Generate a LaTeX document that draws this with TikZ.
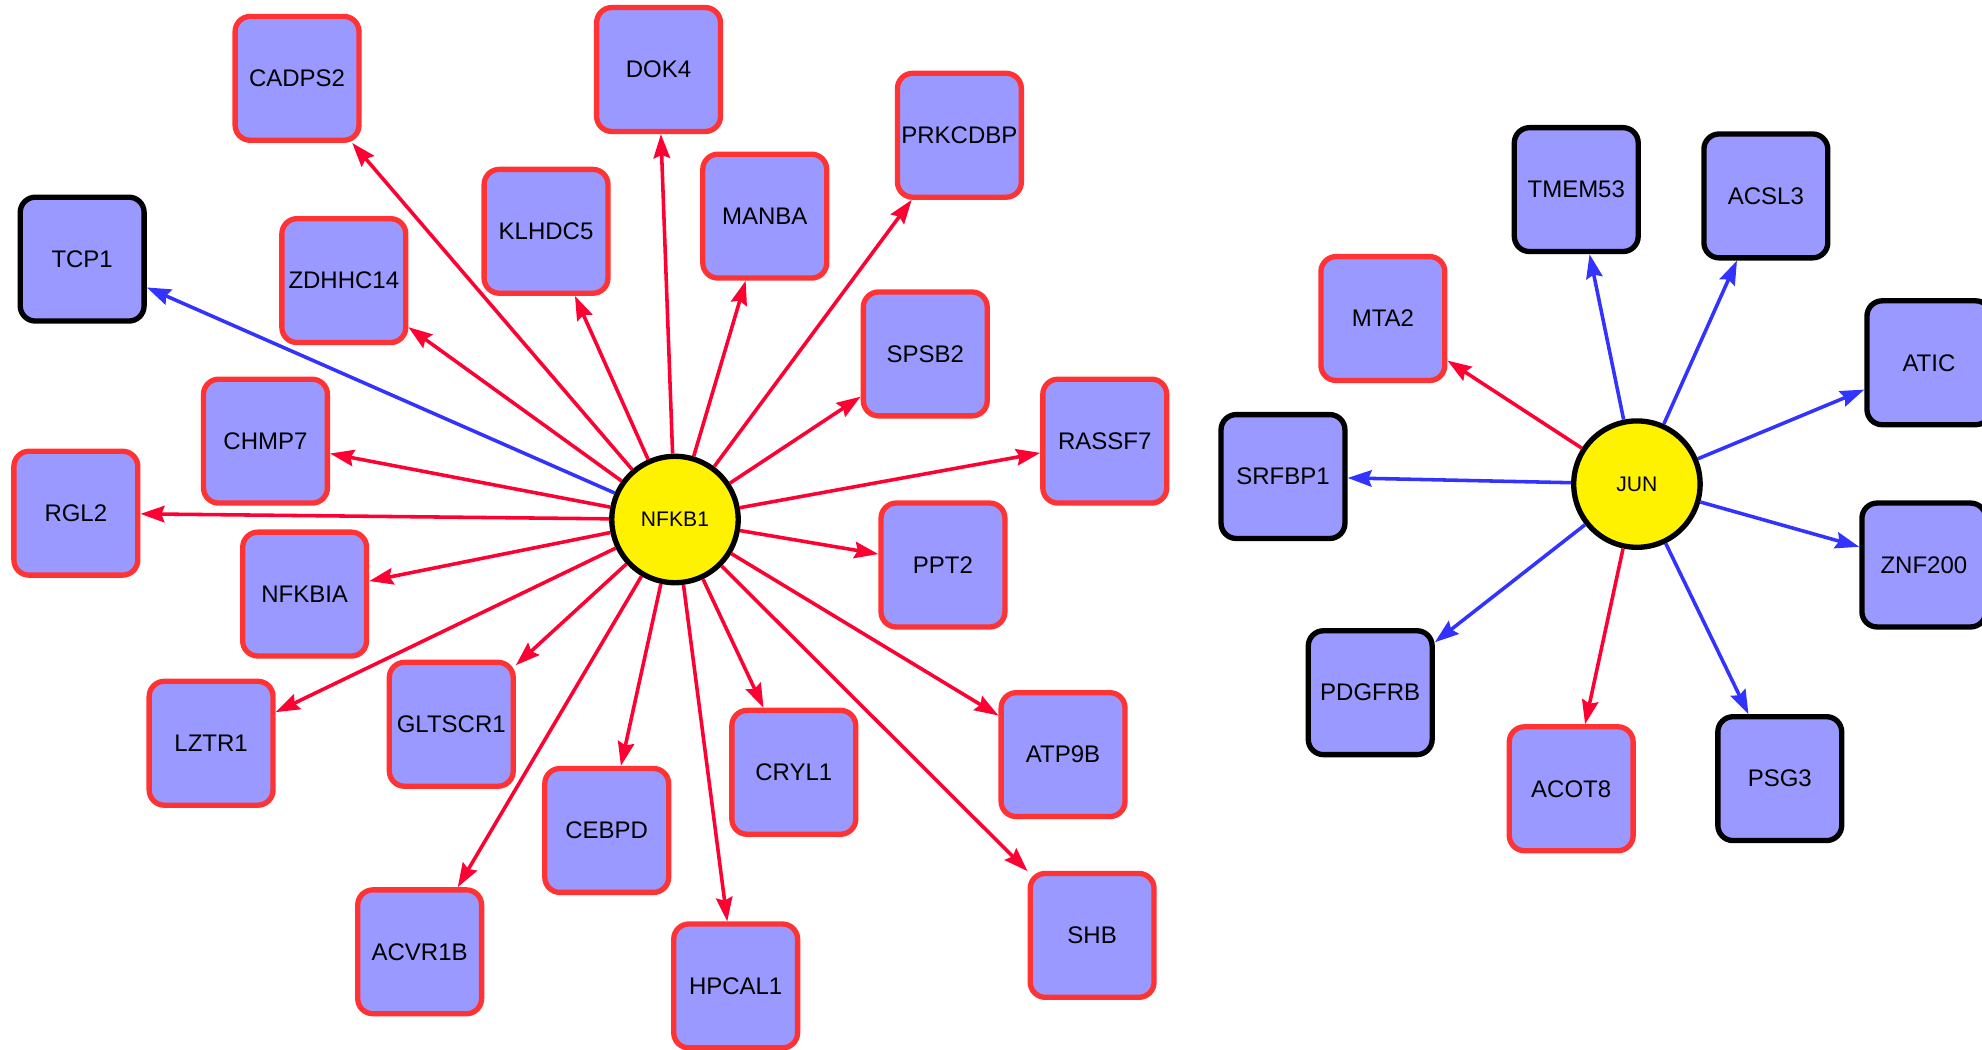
\documentclass[tikz,border=0pt]{standalone}
\usepackage{fontspec}
\setmainfont{Liberation Sans}
\usepackage{tikz}
\usetikzlibrary{arrows.meta}
\definecolor{boxfill}{HTML}{9999FF}
\definecolor{boxred}{HTML}{FF3333}
\definecolor{edgered}{HTML}{FF0033}
\definecolor{edgeblue}{HTML}{3333FF}

\begin{document}
\begin{tikzpicture}[x=0.2mm, y=-0.2mm,
    hub/.style = {circle, minimum size=2cm, inner sep=0pt, fill=yellow, draw=black, line width=2.4pt, font=\fontsize{9.5}{11}\selectfont},
    target/.style = {rectangle, rounded corners=2.4mm, minimum size=1.96cm, inner sep=0pt, fill=boxfill, draw=boxred, line width=2.4pt, font=\fontsize{10.8}{13}\selectfont},
    other/.style = {target, draw=black},
    redge/.style = {edgered, line width=1.6pt, -{Stealth[length=3.8mm, width=2.6mm, inset=0.5mm]}},
    bedge/.style = {redge, edgeblue}]
        \useasboundingbox (0,0) rectangle (1568,830);
        % NFKB1 cluster
        \node[hub] (nfkb) at (534,411) {NFKB1};
        \node[target] (cadps) at (235,62) {CADPS2};
        \node[target] (dok) at (521,55) {DOK4};
        \node[target] (prkc) at (759,107) {PRKCDBP};
        \node[target] (klhd) at (432,183) {KLHDC5};
        \node[target] (manba) at (605,171) {MANBA};
        \node[other] (tcp) at (65,205) {TCP1};
        \node[target] (zdhh) at (272,222) {ZDHHC14};
        \node[target] (spsb) at (732,280) {SPSB2};
        \node[target] (rassf) at (874,349) {RASSF7};
        \node[target] (chmp) at (210,349) {CHMP7};
        \node[target] (rgl) at (60,406) {RGL2};
        \node[target] (nfkbia) at (241,470) {NFKBIA};
        \node[target] (ppt) at (746,447) {PPT2};
        \node[target] (lztr) at (167,588) {LZTR1};
        \node[target] (glts) at (357,573) {GLTSCR1};
        \node[target] (cebpd) at (480,657) {CEBPD};
        \node[target] (cryl) at (628,611) {CRYL1};
        \node[target] (atp) at (841,597) {ATP9B};
        \node[target] (acvr) at (332,753) {ACVR1B};
        \node[target] (hpcal) at (582,780) {HPCAL1};
        \node[target] (shb) at (864,740) {SHB};
        % JUN cluster
        \node[hub] (jun) at (1295,383) {JUN};
        \node[target] (mta) at (1094,252) {MTA2};
        \node[other] (tmem) at (1247,150) {TMEM53};
        \node[other] (acsl) at (1397,155) {ACSL3};
        \node[other] (atic) at (1526,287) {ATIC};
        \node[other] (srf) at (1015,377) {SRFBP1};
        \node[other] (znf) at (1522,447) {ZNF200};
        \node[other] (pdgf) at (1084,548) {PDGFRB};
        \node[target] (acot) at (1243,624) {ACOT8};
        \node[other] (psg) at (1408,616) {PSG3};
        % edges
        \path (nfkb) edge[redge] (cadps);
        \path (nfkb) edge[redge] (dok);
        \path (nfkb) edge[redge] (prkc);
        \path (nfkb) edge[redge] (klhd);
        \path (nfkb) edge[redge] (manba);
        \path (nfkb) edge[bedge] (tcp);
        \path (nfkb) edge[redge] (zdhh);
        \path (nfkb) edge[redge] (spsb);
        \path (nfkb) edge[redge] (rassf);
        \path (nfkb) edge[redge] (chmp);
        \path (nfkb) edge[redge] (rgl);
        \path (nfkb) edge[redge] (nfkbia);
        \path (nfkb) edge[redge] (ppt);
        \path (nfkb) edge[redge] (lztr);
        \path (nfkb) edge[redge] (glts);
        \path (nfkb) edge[redge] (cebpd);
        \path (nfkb) edge[redge] (cryl);
        \path (nfkb) edge[redge] (atp);
        \path (nfkb) edge[redge] (acvr);
        \path (nfkb) edge[redge] (hpcal);
        \path (nfkb) edge[redge] (shb);
        \path (jun) edge[redge] (mta);
        \path (jun) edge[bedge] (tmem);
        \path (jun) edge[bedge] (acsl);
        \path (jun) edge[bedge] (atic);
        \path (jun) edge[bedge] (srf);
        \path (jun) edge[bedge] (znf);
        \path (jun) edge[bedge] (pdgf);
        \path (jun) edge[redge] (acot);
        \path (jun) edge[bedge] (psg);
    \end{tikzpicture}
\end{document}
